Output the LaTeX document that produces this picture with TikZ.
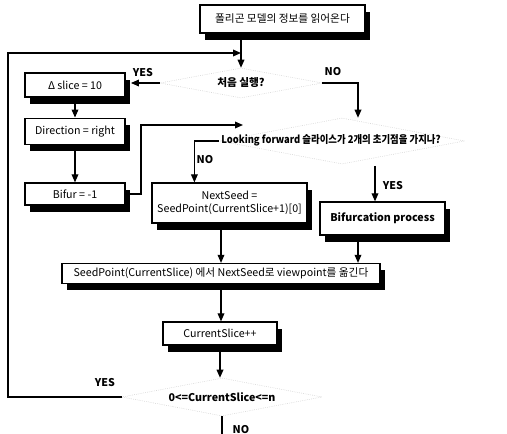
\documentclass[tikz,border=0pt]{standalone}
\usepackage{fontspec}
\setmainfont{Noto Sans CJK KR}
\usetikzlibrary{shapes.geometric,arrows.meta,shadows,calc}
\begin{document}
\begin{tikzpicture}[x=0.75pt,y=-0.75pt,
  every node/.style={font=\fontsize{8}{9.5}\selectfont},
  box/.style={draw, line width=0.9pt, fill=white, align=center, inner sep=1pt,
    drop shadow={shadow xshift=4pt, shadow yshift=-5pt, fill=black, opacity=1}},
  dia/.style={shape=diamond, draw=gray!45, densely dotted, inner sep=0pt},
  lbl/.style={font=\fontsize{8}{9.5}\selectfont\bfseries, inner sep=0pt},
  conn/.style={line width=0.9pt, -{Triangle[length=6pt,width=5pt]}},
  plain/.style={line width=0.9pt}]
\fill[white] (0,0) rectangle (507,434);
\useasboundingbox (0,0) rectangle (507,434);

% diamonds
\node[dia, minimum width=121.5pt, minimum height=22.5pt] (d1) at (241,83) {};
\node[dia, minimum width=183.75pt, minimum height=34.5pt] (d2) at (342,141) {};
\node[dia, minimum width=150pt, minimum height=28.5pt] (d3) at (222,397) {};
\node[lbl] (t1) at (241,83) {처음 실행?};
\node[lbl] (t2) at (331,140) {\scalebox{0.88}[1]{Looking forward 슬라이스가 2개의 초기점을 가지나?}};
\node[lbl] (t3) at (222,397) {0<=CurrentSlice<=n};

% boxes
\node[box, minimum width=123.75pt, minimum height=21pt] (top) at (282.5,19) {폴리곤 모델의 정보를 읽어온다};
\node[box, minimum width=75pt, minimum height=18pt] (delta) at (75,85) {Δ slice = 10};
\node[box, minimum width=75pt, minimum height=20pt] (dir) at (75,131.5) {Direction = right};
\node[box, minimum width=75pt, minimum height=16.5pt] (bifur) at (75,194) {Bifur = -1};
\node[box, minimum width=116.25pt, minimum height=30pt] (nextseed) at (229.5,203) {NextSeed =\\SeedPoint(CurrentSlice+1)[0]};
\node[box, minimum width=93.75pt, minimum height=24.75pt, font=\fontsize{8}{9.5}\selectfont\bfseries] (bifproc) at (382.5,218.5) {Bifurcation process};
\node[box, minimum width=238.5pt, minimum height=15pt] (seedpoint) at (221,273.5) {SeedPoint(CurrentSlice) 에서 NextSeed로 viewpoint를 옮긴다};
\node[box, minimum width=85.5pt, minimum height=17.25pt] (curslice) at (220,333.5) {CurrentSlice++};

% helper coordinates
\coordinate (lc) at (8,53);
\coordinate (bx) at (141,125);
\coordinate (lk) at (243,125);
\coordinate (ys) at (375,166);
\coordinate (bs) at ($(bifproc.south)+(-24.5,0)$);
\coordinate (nd) at ($(d2.north)+(16,0)$);
\coordinate (nn) at ($(nextseed.north west)+(43,0)$);
\coordinate (endp) at (222,434);

% connectors
\draw[conn] (d1.north |- top.south) -- (d1.north);
\draw[conn] (d3.west) -| (lc) -- (lc -| d1.north);
\draw[conn, shorten >=4pt] (d1.west) -- (d1.west -| delta.east);
\draw[conn] (d1.east) -| (nd);
\draw[conn] (delta.south) -- (dir.north);
\draw[conn] (dir.south) -- (bifur.north);
\draw[conn] (bifur.east) -| (bx) -- (lk);
\draw[conn] (d2.west) -| (nn);
\draw[conn] (ys) -- (ys |- bifproc.north);
\draw[conn] (nextseed.south -| seedpoint.north) -- (seedpoint.north);
\draw[conn] (bs) -- (bs |- seedpoint.north);
\draw[conn] (seedpoint.south) -- (seedpoint.south |- curslice.north);
\draw[conn] (curslice.south) -- (curslice.south |- d3.north);
\draw[plain] (d3.south) -- (endp);

% labels
\node[lbl] (yes1) at (143,73) {YES};
\node[lbl] (no1) at (333,72) {NO};
\node[lbl] (no2) at (205,160) {NO};
\node[lbl] (yes2) at (393,186) {YES};
\node[lbl] (yes3) at (105,383) {YES};
\node[lbl] (no3) at (241,430) {NO};
\end{tikzpicture}
\end{document}
